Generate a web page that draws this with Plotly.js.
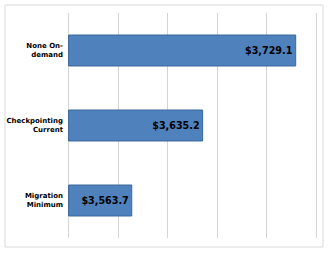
<!DOCTYPE html>
<html>
<head>
<meta charset="utf-8">
<script src="https://cdn.plot.ly/plotly-3.0.1.min.js"></script>
<style>html,body{margin:0;padding:0;background:#fff;}#chart{width:330px;height:255px;}</style>
</head>
<body>
<div id="chart"></div>
<script>
const categories = ["None On-<br>demand", "Checkpointing<br>Current", "Migration<br>Minimum"];
const values = [3729.1, 3635.2, 3563.7];
const axisMin = 3500;
const axisMax = 3750;
const gridStep = 50;

const trace = {
  type: 'bar',
  orientation: 'h',
  y: categories,
  x: values.map(v => v - axisMin),
  base: axisMin,
  customdata: values,
  texttemplate: '$%{customdata:,.1f}',
  textposition: 'inside',
  insidetextanchor: 'end',
  constraintext: 'none',
  textfont: {family: 'DejaVu Sans', size: 9.6, color: '#000', weight: 'bold'},
  marker: {color: '#4F81BD', line: {color: '#3A689E', width: 1}},
  hoverinfo: 'none'
};

const edgeLines = [axisMin, axisMax].map(v => ({
  type: 'line', xref: 'x', yref: 'paper', x0: v, x1: v, y0: 0, y1: 1,
  line: {color: '#d4d4d4', width: 1}, layer: 'below'
}));

const layout = {
  width: 330, height: 255,
  margin: {l: 68, r: 13, t: 13, b: 17, pad: 0},
  paper_bgcolor: '#fff', plot_bgcolor: '#fff',
  showlegend: false,
  bargap: 0.587,
  xaxis: {
    range: [axisMin - 0.6, axisMax + 0.6], dtick: gridStep, tick0: axisMin,
    showticklabels: false, showgrid: true, gridcolor: '#d4d4d4', gridwidth: 1,
    zeroline: false, showline: false, ticks: '', fixedrange: true
  },
  yaxis: {
    type: 'category', autorange: 'reversed',
    showgrid: false, zeroline: false, showline: false, ticks: '',
    ticklabelstandoff: 4,
    tickfont: {family: 'DejaVu Sans', size: 7, color: '#000', weight: 'bold'},
    fixedrange: true
  },
  shapes: [{
    type: 'rect', xref: 'paper', yref: 'paper',
    x0: (5 - 68) / 249, x1: (323 - 68) / 249,
    y0: (238 - 247) / 225, y1: (238 - 5) / 225,
    line: {color: '#d9d9d9', width: 1}, fillcolor: 'rgba(0,0,0,0)', layer: 'below'
  }].concat(edgeLines)
};

Plotly.newPlot('chart', [trace], layout, {displayModeBar: false, staticPlot: true});
</script>
</body>
</html>
